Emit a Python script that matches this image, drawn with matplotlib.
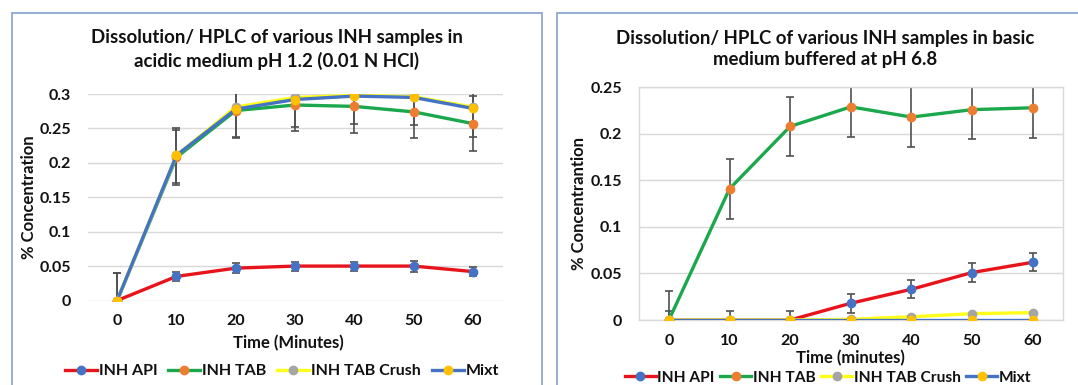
import matplotlib
matplotlib.use("Agg")
import matplotlib.pyplot as plt
from matplotlib.patches import Rectangle
import numpy as np

plt.rcParams['font.family'] = ['Lato', 'DejaVu Sans']
plt.rcParams['font.weight'] = 'bold'

# ---------------- data ----------------
time_labels = ["0", "10", "20", "30", "40", "50", "60"]
series_names = ["INH API", "INH TAB", "INH TAB Crush", "Mixt"]

# acidic medium pH 1.2
acid_api = [0, 0.035, 0.047, 0.050, 0.050, 0.050, 0.042]
acid_api_err = [0, 0.006, 0.007, 0.0065, 0.0065, 0.008, 0.0068]
acid_tab = [0, 0.208, 0.276, 0.284, 0.282, 0.274, 0.257]
acid_tab_err = [0.04, 0.04, 0.04, 0.038, 0.039, 0.038, 0.04]
acid_crush = [0, 0.211, 0.281, 0.295, 0.298, 0.296, 0.281]
acid_mixt = [0, 0.211, 0.278, 0.292, 0.297, 0.295, 0.279]
acid_mixt_err = [0.04, 0.04, 0.04, 0.04, 0.041, 0.04, 0.042]

# basic medium pH 6.8
basic_api = [0, 0, 0, 0.018, 0.033, 0.051, 0.062]
basic_api_err = [0.0095, 0.0095, 0.0095, 0.01, 0.0095, 0.01, 0.0095]
basic_tab = [0, 0.141, 0.208, 0.229, 0.218, 0.226, 0.228]
basic_tab_err = [0.031, 0.032, 0.032, 0.032, 0.032, 0.032, 0.032]
basic_crush = [0, 0, 0, 0.0007, 0.0035, 0.0068, 0.0079]
basic_mixt = [0, 0, 0, 0, 0, 0, 0]

line_colors = ["#E8141B", "#1BA84C", "#FFFF1A", "#4472C4"]
marker_colors = ["#4472C4", "#ED7D31", "#A5A5A5", "#FFC000"]
err_color = "#505050"
grid_color = "#D9D9D9"
border_color = "#8EA9CF"
text_color = "#111111"

W, H = 1078, 385
fig = plt.figure(figsize=(W / 100, H / 100), dpi=100)
fig.patch.set_facecolor("white")

# panel borders
fig.patches.append(Rectangle((11.7 / W, -0.05), (541.7 - 11.7) / W, 1 - 13.3 / H + 0.05,
                             transform=fig.transFigure, fill=False,
                             edgecolor=border_color, lw=1.3))
fig.patches.append(Rectangle((556.7 / W, -0.05), 0.6, 1 - 13.3 / H + 0.05,
                             transform=fig.transFigure, fill=False,
                             edgecolor=border_color, lw=1.3))

ax1 = fig.add_axes([87.5 / W, (H - 300.5) / H, 415.2 / W, 206.5 / H])
ax2 = fig.add_axes([638.6 / W, (H - 320) / H, 424.4 / W, 232.7 / H])

x = np.arange(len(time_labels))


def draw(ax, data, errs, ymax, yticks, ylabels, xlabel, ylabel, box):
    handles = []
    for vals, err in errs:
        ax.errorbar(x, vals, yerr=err, fmt='none', ecolor=err_color,
                    elinewidth=1.2, capsize=3, capthick=1.2, zorder=2)
    for i, vals in enumerate(data):
        h, = ax.plot(x, vals, color=line_colors[i], lw=2.4, marker='o',
                     markersize=6, markerfacecolor=marker_colors[i],
                     markeredgecolor=marker_colors[i], zorder=3 + i,
                     label=series_names[i])
        handles.append(h)
    ax.set_xlim(-0.5, len(time_labels) - 0.5)
    ax.set_ylim(0, ymax)
    ax.set_xticks(x)
    ax.set_xticklabels(time_labels)
    ax.set_yticks(yticks)
    ax.set_yticklabels(ylabels)
    ax.tick_params(axis='both', length=0, labelsize=11.5, labelcolor=text_color)
    ax.tick_params(axis='y', pad=12)
    ax.tick_params(axis='x', pad=10)
    ax.yaxis.grid(True, color=grid_color, lw=1.0, zorder=0)
    ax.set_axisbelow(True)
    for s in ax.spines.values():
        s.set_visible(box)
        s.set_color(grid_color)
        s.set_linewidth(1.0)
    ax.set_xlabel(xlabel, fontsize=12, fontweight='bold', color=text_color)
    ax.set_ylabel(ylabel, fontsize=12, fontweight='bold', color=text_color)
    return handles


h1 = draw(ax1, [acid_api, acid_tab, acid_crush, acid_mixt],
          [(acid_api, acid_api_err), (acid_tab, acid_tab_err), (acid_mixt, acid_mixt_err)],
          0.3, [0, 0.05, 0.1, 0.15, 0.2, 0.25, 0.3],
          ["0", "0.05", "0.1", "0.15", "0.2", "0.25", "0.3"],
          "Time (Minutes)", "% Concentration", False)
h2 = draw(ax2, [basic_api, basic_tab, basic_crush, basic_mixt],
          [(basic_api, basic_api_err), (basic_tab, basic_tab_err)],
          0.25, [0, 0.05, 0.1, 0.15, 0.2, 0.25],
          ["0", "0.05", "0.1", "0.15", "0.2", "0.25"],
          "Time (minutes)", "% Concentrantion", True)

for ax in (ax1, ax2):
    for t in ax.get_xticklabels() + ax.get_yticklabels():
        t.set_fontweight('bold')

ax1.xaxis.set_label_coords(0.485, (300.5 - 342.7) / 206.5)
ax1.xaxis.label.set_verticalalignment('center')
ax1.yaxis.set_label_coords((29 - 87.5) / 415.2, (300.5 - 197) / 206.5)
ax1.yaxis.label.set_verticalalignment('center')
ax2.xaxis.set_label_coords(0.5, (320 - 358) / 232.7)
ax2.xaxis.label.set_verticalalignment('center')
ax2.yaxis.set_label_coords((578.6 - 638.6) / 424.4, (320 - 203) / 232.7)
ax2.yaxis.label.set_verticalalignment('center')

fig.text(277 / W, 1 - 49.5 / H,
         "Dissolution/ HPLC of various INH samples in\nacidic medium pH 1.2 (0.01 N HCl)",
         ha='center', va='center', fontsize=13.4, fontweight='bold',
         linespacing=1.35, color=text_color)
fig.text(825 / W, 1 - 49 / H,
         "Dissolution/ HPLC of various INH samples in basic\nmedium buffered at pH 6.8",
         ha='center', va='center', fontsize=13.4, fontweight='bold',
         linespacing=1.35, color=text_color)

leg1 = fig.legend(handles=h1, loc='center', bbox_to_anchor=(282 / W, 1 - 371 / H), ncol=4,
                  frameon=False, handlelength=2.0, handletextpad=0.1,
                  columnspacing=0.7, borderpad=0, prop={'weight': 'bold', 'size': 11.5})
leg2 = fig.legend(handles=h2, loc='center', bbox_to_anchor=(828 / W, 1 - 377.7 / H), ncol=4,
                  frameon=False, handlelength=2.0, handletextpad=0.1,
                  columnspacing=0.35, borderpad=0, prop={'weight': 'bold', 'size': 11.2})
for leg in (leg1, leg2):
    for t in leg.get_texts():
        t.set_color(text_color)

fig.savefig("out.png", dpi=100, facecolor="white")
